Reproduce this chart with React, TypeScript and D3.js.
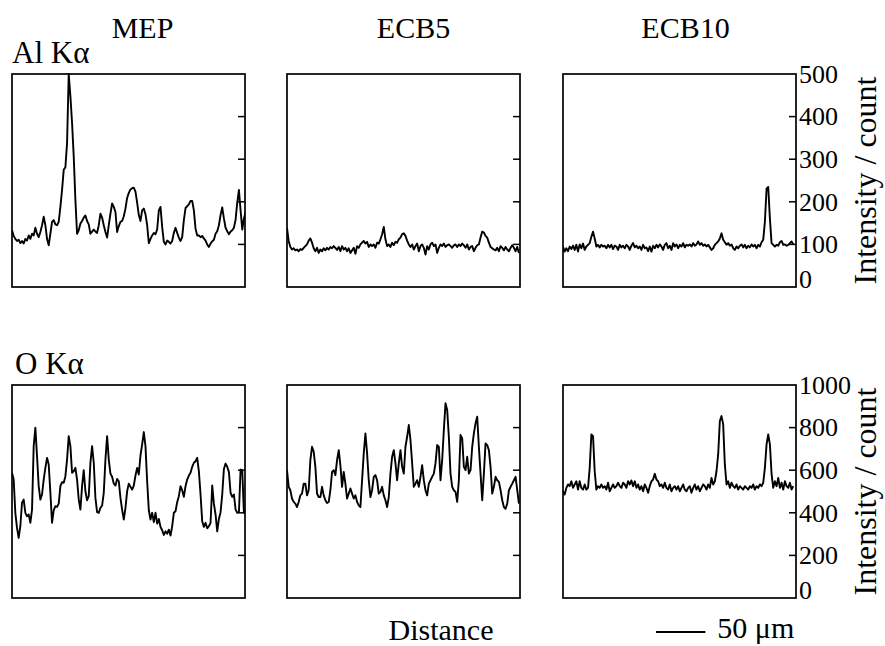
import React from 'react';
import * as d3 from 'd3';

// line scans, one reading every STEP_UM micrometres
const STEP_UM = 1.69;
const SCAN_LENGTH_UM = 236;

const samples = ['MEP', 'ECB5', 'ECB10'];

const alMEP = [133, 120, 113, 108, 111, 103, 108, 102, 113, 109, 121, 113, 125, 121, 139, 125, 117, 129, 145, 165,
  145, 113, 98, 125, 153, 157, 147, 145, 153, 188, 228, 275, 281, 338, 500, 448, 385, 306, 204, 125,
  133, 149, 155, 163, 168, 155, 147, 125, 130, 135, 130, 127, 145, 172, 163, 145, 129, 116, 145, 172,
  196, 188, 176, 129, 143, 153, 155, 166, 184, 209, 221, 229, 232, 233, 224, 198, 169, 155, 180, 184,
  171, 145, 103, 113, 121, 127, 124, 135, 180, 188, 141, 106, 100, 109, 106, 102, 108, 127, 139, 127,
  116, 108, 117, 157, 185, 190, 194, 202, 202, 180, 137, 121, 121, 117, 120, 114, 109, 100, 94, 102,
  107, 111, 125, 131, 145, 169, 187, 161, 139, 131, 124, 130, 133, 139, 158, 198, 228, 180, 135, 161, 176];

const alECB5 = [139, 108, 94, 88, 91, 86, 88, 84, 89, 87, 92, 96, 100, 109, 114, 104, 91, 84, 92, 80,
  88, 84, 91, 86, 92, 88, 94, 91, 96, 92, 87, 94, 84, 96, 88, 92, 84, 91, 80, 86,
  92, 78, 96, 92, 100, 104, 108, 102, 106, 94, 100, 96, 100, 92, 104, 102, 112, 124, 141, 112,
  96, 100, 94, 104, 98, 106, 104, 112, 116, 124, 126, 120, 109, 100, 94, 100, 88, 96, 102, 84,
  96, 100, 92, 76, 96, 88, 100, 104, 96, 100, 80, 92, 100, 96, 102, 94, 98, 100, 96, 92,
  98, 100, 94, 100, 96, 102, 98, 92, 100, 88, 94, 96, 84, 92, 98, 100, 116, 130, 128, 120,
  116, 104, 94, 91, 88, 86, 92, 84, 96, 92, 86, 94, 88, 84, 92, 98, 92, 84, 94, 80];

const alECB10 = [95, 83, 91, 84, 95, 89, 97, 87, 99, 83, 100, 91, 102, 87, 95, 99, 103, 118, 130, 114,
  95, 99, 93, 99, 95, 97, 91, 99, 93, 99, 89, 97, 95, 87, 99, 93, 97, 91, 99, 95,
  87, 97, 103, 93, 97, 91, 95, 87, 99, 91, 93, 84, 95, 83, 97, 91, 99, 93, 100, 95,
  87, 99, 103, 91, 97, 87, 103, 95, 100, 91, 99, 95, 103, 93, 99, 97, 100, 95, 103, 97,
  100, 107, 99, 103, 97, 100, 95, 99, 93, 87, 91, 99, 103, 107, 114, 126, 111, 105, 99, 103,
  97, 100, 91, 87, 95, 91, 97, 100, 93, 99, 91, 97, 93, 100, 95, 99, 91, 99, 95, 105,
  111, 153, 231, 235, 161, 103, 99, 95, 99, 97, 105, 108, 99, 100, 97, 99, 103, 107, 100];

const oMEP = [588, 556, 400, 329, 282, 337, 447, 462, 400, 384, 392, 353, 415, 713, 799, 666, 525, 462, 486, 556,
  611, 658, 627, 494, 353, 412, 431, 428, 443, 525, 544, 541, 572, 650, 760, 713, 588, 595, 611, 556,
  462, 415, 525, 600, 501, 459, 478, 635, 713, 635, 470, 403, 400, 423, 434, 494, 650, 760, 650, 584,
  569, 537, 528, 559, 548, 470, 415, 368, 423, 501, 537, 522, 509, 528, 575, 611, 580, 669, 721, 779,
  713, 548, 412, 368, 400, 356, 400, 349, 371, 334, 318, 296, 313, 302, 321, 293, 337, 400, 407, 450,
  478, 525, 506, 475, 525, 556, 575, 588, 616, 635, 642, 658, 595, 486, 360, 334, 353, 327, 337, 353,
  528, 443, 392, 313, 371, 403, 486, 606, 631, 616, 591, 494, 475, 486, 415, 400, 403, 603, 600, 400, 415];

const oECB5 = [600, 522, 506, 467, 451, 443, 427, 451, 482, 490, 537, 537, 482, 506, 647, 710, 687, 616, 490, 474,
  474, 522, 482, 459, 446, 451, 506, 592, 600, 577, 647, 694, 624, 522, 592, 537, 467, 490, 514, 490,
  467, 482, 451, 435, 427, 553, 679, 773, 679, 553, 474, 506, 569, 577, 553, 490, 498, 522, 482, 459,
  427, 474, 584, 663, 694, 632, 553, 632, 694, 616, 584, 710, 757, 812, 742, 632, 522, 537, 553, 522,
  569, 624, 553, 506, 482, 537, 553, 569, 584, 632, 718, 710, 553, 647, 789, 914, 883, 757, 584, 522,
  506, 498, 451, 553, 765, 749, 616, 600, 663, 584, 600, 710, 773, 820, 851, 710, 584, 459, 584, 726,
  718, 694, 616, 490, 522, 569, 553, 545, 506, 459, 427, 419, 443, 506, 522, 537, 553, 569, 506, 443];

const oECB10 = [501, 486, 517, 533, 525, 548, 517, 533, 548, 509, 548, 517, 509, 533, 509, 517, 611, 768, 760, 595,
  509, 525, 517, 533, 517, 525, 509, 541, 501, 517, 533, 517, 525, 541, 525, 517, 541, 533, 517, 548,
  533, 552, 525, 548, 517, 533, 509, 525, 501, 533, 517, 494, 525, 548, 556, 583, 556, 548, 525, 533,
  517, 541, 517, 509, 533, 501, 517, 525, 509, 525, 501, 517, 533, 509, 501, 517, 525, 494, 517, 533,
  509, 525, 501, 517, 533, 525, 509, 533, 517, 564, 533, 548, 595, 674, 831, 854, 815, 627, 533, 548,
  517, 541, 525, 517, 533, 509, 525, 517, 509, 525, 517, 509, 525, 517, 533, 509, 525, 517, 533, 525,
  541, 611, 721, 768, 721, 583, 517, 548, 525, 564, 517, 541, 509, 548, 525, 517, 541, 509, 525];

const rows = [
  { element: 'Al K\u03B1', max: 500, ticks: [0, 100, 200, 300, 400, 500], series: [alMEP, alECB5, alECB10] },
  { element: 'O K\u03B1', max: 1000, ticks: [0, 200, 400, 600, 800, 1000], series: [oMEP, oECB5, oECB10] },
];

const SCALE_BAR_UM = 50;

const width = 885;
const height = 646;
const serif = "'Liberation Serif', 'Times New Roman', Times, 'DejaVu Serif', serif";
const colLeft = [12, 287, 563];
const headShift = [14, 10, 6];
const panelW = 233;
const rowTop = [74, 385];
const panelH = 213;

export default function App() {
  const x = d3.scaleLinear().domain([0, SCAN_LENGTH_UM]).range([0, panelW]);

  return (
    <svg width={width} height={height}
      style={{ position: 'absolute', left: 0, top: 0, background: '#fff', fontFamily: serif }}>
      <defs>
        <clipPath id="panel-clip">
          <rect x={0} y={-2} width={panelW} height={panelH + 4} />
        </clipPath>
      </defs>

      {samples.map((s, i) => (
        <text key={`head-${s}`} x={colLeft[i] + panelW / 2 + headShift[i]} y={38} fontSize={30} textAnchor="middle">{s}</text>
      ))}

      {rows.map((row, r) => {
        const y = d3.scaleLinear().domain([0, row.max]).range([panelH, 0]);
        const line = d3.line<number>()
          .x((_, i) => x(i * STEP_UM))
          .y((d) => y(d));
        const inner = row.ticks.filter((t) => t > 0 && t < row.max);
        return (
          <g key={`row-${r}`} transform={`translate(0,${rowTop[r]})`}>
            <text x={r === 0 ? 12 : 15} y={-11} fontSize={31}>{row.element}</text>
            {row.series.map((vals, c) => (
              <g key={`panel-${r}-${c}`} transform={`translate(${colLeft[c]},0)`}>
                <path d={line(vals) ?? ''} fill="none" stroke="#000" strokeWidth={1.9}
                  strokeLinejoin="round" clipPath="url(#panel-clip)" />
                <rect x={0} y={0} width={panelW} height={panelH} fill="none" stroke="#000" strokeWidth={1.7} />
                {inner.map((t) => (
                  <line key={t} x1={panelW - 7} x2={panelW} y1={y(t)} y2={y(t)} stroke="#000" strokeWidth={1.5} />
                ))}
              </g>
            ))}
            <g transform={`translate(${colLeft[2] + panelW},0)`}>
              {row.ticks.map((t) => (
                <text key={t} x={3} y={y(t) - (t === 0 ? 8 : 0)} dy="0.34em" fontSize={26}>{t}</text>
              ))}
              <text transform={`translate(${876 - colLeft[2] - panelW},${panelH / 2}) rotate(-90)`}
                textAnchor="middle" fontSize={32}>Intensity / count</text>
            </g>
          </g>
        );
      })}

      <text x={441} y={640} fontSize={30} textAnchor="middle">Distance</text>
      <g transform="translate(656,632)">
        <line x1={x(0)} x2={x(SCALE_BAR_UM)} y1={0} y2={0} stroke="#000" strokeWidth={2} />
        <text x={x(SCALE_BAR_UM) + 12} y={6} fontSize={30}>{`${SCALE_BAR_UM} \u03BCm`}</text>
      </g>
    </svg>
  );
}
